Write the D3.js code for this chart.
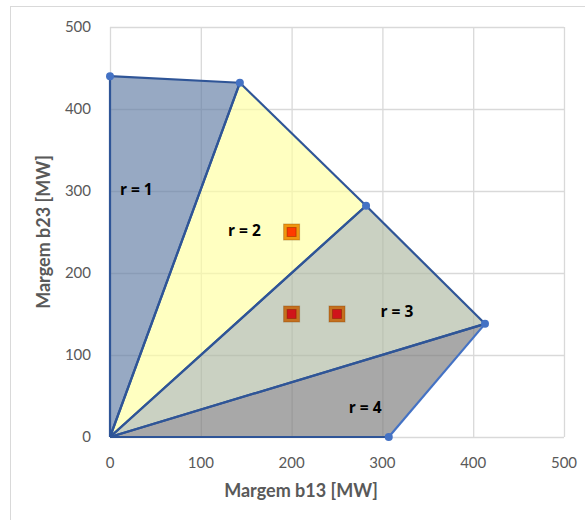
<!DOCTYPE html>
<html>
<head>
<meta charset="utf-8">
<script src="https://cdn.jsdelivr.net/npm/d3@7/dist/d3.min.js"></script>
<style>
  html, body { margin: 0; padding: 0; background: #fff; }
  svg { display: block; }
  text { font-family: Lato, "Open Sans", sans-serif; }
</style>
</head>
<body>
<svg id="chart" width="585" height="520"></svg>
<script>
// Boundary vertices of the feasible region (MW)
const vertexB13 = [0, 143, 282, 413, 307];
const vertexB23 = [440, 432, 282, 138, 0];

// Each region r is the fan triangle from the origin between two consecutive vertices
const regionNames = ["r = 1", "r = 2", "r = 3", "r = 4"];
const regionFrom = [0, 1, 2, 3];
const regionTo = [1, 2, 3, 4];

// Operating points (MW)
const pointB13 = [200, 200, 250];
const pointB23 = [250, 150, 150];

// Axis ticks
const xTicks = [0, 100, 200, 300, 400, 500];
const yTicks = [0, 100, 200, 300, 400, 500];

const regionFill = ["#5f7ba3", "#ffff9f", "#aeb8a2", "#7a7a7a"];
const labelAt = [[29, 302], [148, 252], [316, 153], [281, 36]];
const pointStyle = [
  { outer: "#f0960f", inner: "#ff3a00" },
  { outer: "#c4701f", inner: "#d0141a" },
  { outer: "#c4701f", inner: "#d0141a" }
];

const svg = d3.select("#chart");

// outer chart border
svg.append("rect")
  .attr("x", 10.5).attr("y", 6.5)
  .attr("width", 590).attr("height", 530)
  .attr("fill", "none").attr("stroke", "#d9d9d9");

const x = d3.scaleLinear().domain([0, 500]).range([110, 564]);
const y = d3.scaleLinear().domain([0, 500]).range([437, 27]);

// gridlines
const grid = svg.append("g");
grid.selectAll("line.v").data(xTicks).join("line")
  .attr("x1", d => x(d) + 0.5).attr("x2", d => x(d) + 0.5)
  .attr("y1", y(500)).attr("y2", y(0))
  .attr("stroke", "#d9d9d9").attr("stroke-width", 1.3);
grid.selectAll("line.h").data(yTicks).join("line")
  .attr("y1", d => y(d) + 0.5).attr("y2", d => y(d) + 0.5)
  .attr("x1", x(0)).attr("x2", x(500))
  .attr("stroke", "#d9d9d9").attr("stroke-width", 1.3);

// region polygons
const poly = i => [[0, 0],
  [vertexB13[regionFrom[i]], vertexB23[regionFrom[i]]],
  [vertexB13[regionTo[i]], vertexB23[regionTo[i]]]];
const line = d3.line().x(d => x(d[0])).y(d => y(d[1]));

svg.append("g").selectAll("path").data(regionNames).join("path")
  .attr("d", (d, i) => line(poly(i)) + "Z")
  .attr("fill", (d, i) => regionFill[i])
  .attr("fill-opacity", 0.65)
  .attr("stroke", "none");

// region edges
const edges = svg.append("g").attr("fill", "none").attr("stroke-width", 2.2)
  .attr("stroke-linejoin", "round");
regionNames.forEach((d, i) => {
  const p = poly(i);
  edges.append("path").attr("d", line([p[0], p[1]])).attr("stroke", "#2f5597");
  edges.append("path").attr("d", line([p[0], p[2]])).attr("stroke", "#2f5597");
  edges.append("path").attr("d", line([p[1], p[2]]))
    .attr("stroke", i === 3 ? "#4472c4" : "#2f5597");
});

// vertex markers
svg.append("g").selectAll("circle").data(vertexB13).join("circle")
  .attr("cx", (d) => x(d))
  .attr("cy", (d, i) => y(vertexB23[i]))
  .attr("r", 4)
  .attr("fill", "#4472c4");

// region labels
svg.append("g").selectAll("text").data(regionNames).join("text")
  .attr("x", (d, i) => x(labelAt[i][0]))
  .attr("y", (d, i) => y(labelAt[i][1]))
  .attr("text-anchor", "middle").attr("dy", "0.35em")
  .style("font-family", "'Open Sans', sans-serif")
  .attr("font-size", 15.5).attr("font-weight", "bold").attr("fill", "#000")
  .text(d => d);

// operating points
const pts = svg.append("g").selectAll("g").data(pointB13).join("g")
  .attr("transform", (d, i) => `translate(${x(d)},${y(pointB23[i])})`);
pts.append("rect")
  .attr("x", -8).attr("y", -8).attr("width", 16).attr("height", 16)
  .attr("fill", (d, i) => pointStyle[i].outer)
  .attr("stroke", "rgba(120,60,0,0.35)").attr("stroke-width", 1);
pts.append("rect")
  .attr("x", -4.5).attr("y", -4.5).attr("width", 9).attr("height", 9)
  .attr("fill", (d, i) => pointStyle[i].inner)
  .attr("stroke", "rgba(120,20,0,0.4)").attr("stroke-width", 1);

// axes tick labels
svg.append("g").selectAll("text").data(xTicks).join("text")
  .attr("x", d => x(d)).attr("y", 463)
  .attr("text-anchor", "middle").attr("dy", "0.35em")
  .attr("font-size", 15).attr("fill", "#595959")
  .text(d => d);
svg.append("g").selectAll("text").data(yTicks).join("text")
  .attr("x", 91).attr("y", d => y(d))
  .attr("text-anchor", "end").attr("dy", "0.35em")
  .attr("font-size", 15).attr("fill", "#595959")
  .text(d => d);

// axis titles
svg.append("text")
  .attr("x", 301).attr("y", 491).attr("dy", "0.35em")
  .attr("text-anchor", "middle")
  .attr("font-size", 18).attr("font-weight", "bold").attr("fill", "#595959")
  .text("Margem b13 [MW]");
svg.append("text")
  .attr("transform", `translate(44,${(y(0) + y(500)) / 2}) rotate(-90)`)
  .attr("dy", "0.35em")
  .attr("text-anchor", "middle")
  .attr("font-size", 18).attr("font-weight", "bold").attr("fill", "#595959")
  .text("Margem b23 [MW]");
</script>
</body>
</html>
